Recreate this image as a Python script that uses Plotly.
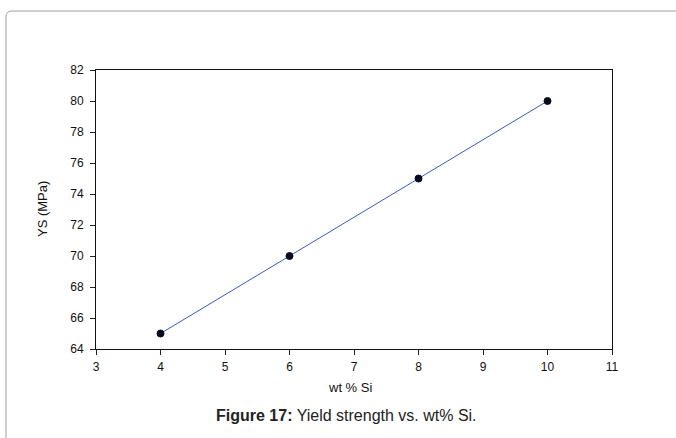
import plotly.graph_objects as go

wt_si = [4, 6, 8, 10]
ys_mpa = [65, 70, 75, 80]

x_ticks = [3, 4, 5, 6, 7, 8, 9, 10, 11]
y_ticks = [64, 66, 68, 70, 72, 74, 76, 78, 80, 82]

W, H = 676, 438
L, R, T, B = 96, 612, 70, 349

def px(x):
    return (x - L) / (R - L)

def py(y):
    return (B - y) / (B - T)

fig = go.Figure()
fig.add_trace(go.Scatter(
    x=wt_si, y=ys_mpa, mode="lines+markers",
    line=dict(color="#3a5bc0", width=1),
    marker=dict(symbol="circle", size=7, color="#0a0a1e", line=dict(color="#0a0a1e", width=1)),
    showlegend=False,
))

path = (f"M {px(6)},{py(445)} L {px(6)},{py(17)} Q {px(6)},{py(11)} {px(12)},{py(11)} "
        f"L {px(690)},{py(11)}")

fig.update_layout(
    width=W, height=H,
    margin=dict(l=L, r=W - R, t=T, b=H - B),
    paper_bgcolor="white", plot_bgcolor="white",
    font=dict(family="Liberation Sans, Arial, sans-serif", size=12, color="#111"),
    xaxis=dict(range=[3, 11], tickvals=x_ticks, ticks="outside", ticklen=5, tickcolor="#222",
               showline=True, linecolor="#111", linewidth=1, mirror=True, showgrid=False,
               zeroline=False, ticklabelstandoff=2, tickfont=dict(size=12)),
    yaxis=dict(range=[64, 82], tickvals=y_ticks, ticks="outside", ticklen=5, tickcolor="#222",
               showline=True, linecolor="#111", linewidth=1, mirror=True, showgrid=False,
               zeroline=False, ticklabelstandoff=4, tickfont=dict(size=12)),
    shapes=[dict(type="path", xref="paper", yref="paper", path=path,
                 line=dict(color="#a0a0a0", width=1), layer="below")],
    annotations=[
        dict(xref="paper", yref="paper", x=px(350), y=py(388), xanchor="center", yanchor="middle",
             text="wt % Si", showarrow=False, font=dict(size=13, color="#111")),
        dict(xref="paper", yref="paper", x=px(42), y=py(209), xanchor="center", yanchor="middle",
             text="YS (MPa)", textangle=-90, showarrow=False, font=dict(size=13, color="#111")),
        dict(xref="paper", yref="paper", x=px(346), y=py(415), xanchor="center", yanchor="middle",
             text="<b>Figure 17:</b> Yield strength vs. wt% Si.", showarrow=False,
             font=dict(size=16, color="#222")),
    ],
)

fig.write_html("out.html")
